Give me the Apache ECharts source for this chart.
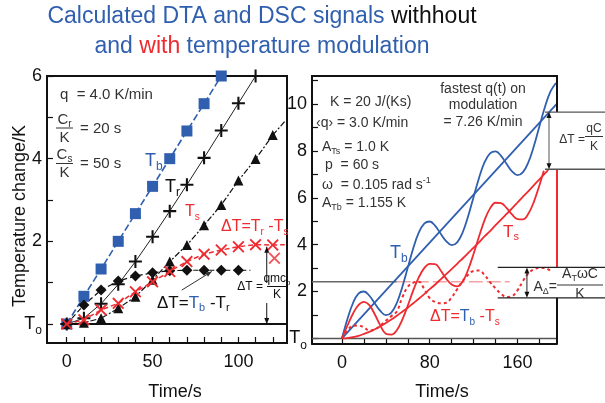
<!DOCTYPE html>
<html>
<head>
<meta charset="utf-8">
<script src="https://cdn.jsdelivr.net/npm/echarts@6/dist/echarts.min.js"></script>
<style>
  html, body { margin: 0; background: #fff; }
  #c { width: 605px; height: 403px; }
</style>
</head>
<body>
<div id="c"></div>
<script>
// ---- left panel: DTA without modulation (time in s, temperature in K) ----
const leftTime = [0, 10, 20, 30, 40, 50, 60, 70, 80, 90, 100, 110, 120]
const tbSquares = [0, 0.67, 1.33, 2.0, 2.67, 3.33, 4.0, 4.67, 5.33, 6.0]
const trPlus = [0, 0.14, 0.49, 0.96, 1.51, 2.11, 2.73, 3.37, 4.02, 4.68, 5.34, 6.0]
const tsTriangles = [0, 0.03, 0.14, 0.38, 0.66, 1.07, 1.51, 1.91, 2.39, 2.88, 3.47, 3.99, 4.57]
const dTrTs = [0, 0.1, 0.34, 0.5, 0.78, 1.02, 1.27, 1.51, 1.69, 1.79, 1.87, 1.92, 1.91]
const dTbTr = [0, 0.46, 0.82, 1.04, 1.16, 1.24, 1.29, 1.3, 1.3, 1.3, 1.3]
const leftXTicks = [0, 10, 20, 30, 40, 50, 60, 70, 80, 90, 100, 110, 120]
const leftXLabels = [0, 50, 100]
const leftYTicks = [0, 1, 2, 3, 4, 5, 6]
const leftYLabels = [0, 2, 4, 6]

// ---- right panel: with temperature modulation ----
const rTime = [0, 5, 10, 15, 20, 25, 30, 35, 40, 45, 50, 55, 60, 65, 70, 75, 80, 85, 90, 95,
  100, 105, 110, 115, 120, 125, 130, 135, 140, 145, 150, 155, 160, 165, 170, 175, 180, 185, 190, 195]
const tbLinTime = [0, 196]
const tbLin = [0, 10.02]
const tbMod = [0, 0.83, 1.50, 1.91, 2.00, 1.82, 1.49, 1.17, 0.99, 1.10, 1.51, 2.19, 3.02, 3.85, 4.51, 4.90, 4.99, 4.80, 4.47, 4.15,
  3.98, 4.10, 4.52, 5.21, 6.04, 6.86, 7.52, 7.90, 7.98, 7.79, 7.45, 7.13, 6.97, 7.10, 7.53, 8.22, 9.06, 9.88, 10.53, 10.90]
const tsLinTime = rTime.slice(0, 38).concat([188])
const tsLin = [0, 0.01, 0.05, 0.11, 0.19, 0.28, 0.39, 0.52, 0.66, 0.81, 0.97, 1.14, 1.31, 1.50, 1.69, 1.89, 2.10, 2.30, 2.52, 2.74,
  2.96, 3.18, 3.41, 3.64, 3.87, 4.11, 4.35, 4.58, 4.83, 5.07, 5.31, 5.55, 5.80, 6.05, 6.29, 6.54, 6.79, 7.04, 7.19]
const tsModTime = rTime.slice(0, 37).concat([184])
const tsMod = [0, 0.55, 1.05, 1.42, 1.56, 1.42, 1.02, 0.55, 0.20, 0.16, 0.35, 0.80, 1.40, 2.05, 2.60, 3.00, 3.18, 3.17, 2.90, 2.55,
  2.30, 2.22, 2.42, 2.93, 3.61, 4.36, 5.05, 5.55, 5.79, 5.77, 5.57, 5.29, 5.09, 5.08, 5.33, 5.84, 6.54, 7.16]
const dTbTs = [0, 0.35, 0.53, 0.55, 0.47, 0.33, 0.38, 0.55, 0.75, 0.95, 1.15, 1.75, 2.20, 2.38, 2.42, 2.10, 1.72, 1.55, 1.50, 1.52,
  1.75, 2.10, 2.45, 2.72, 2.88, 2.90, 2.70, 2.40, 2.13, 1.90, 1.77, 1.80, 2.05, 2.45, 2.78, 2.95, 3.00, 3.00, 2.88]
const meanLevel = 2.42
const qcBracket = [9.66, 7.22]   // ΔT = qC/K
const ampBracket = [3.03, 1.73]  // A_Δ
const rightXTicks = [0, 20, 40, 60, 80, 100, 120, 140, 160, 180]
const rightXLabels = [0, 80, 160]
const rightYTicks = [0, 1, 2, 3, 4, 5, 6, 7, 8, 9, 10, 11]
const rightYLabels = [0, 2, 4, 6, 8, 10]

const L_X = [-11.5, 128.3], L_Y = [-0.46, 6]
const R_X = [-27.3, 196], R_Y = [-0.24, 11.2]

const FF = '"Liberation Sans", Arial, sans-serif'
const INK = '#111'
const TXT = '#333'
const BLUE = '#2f5fae'
const RED = '#ee2b30'
const PLUS = 'path://M4.2,0H5.8V4.2H10V5.8H5.8V10H4.2V5.8H0V4.2H4.2Z'
const CROSS = 'path://M0,1.1L1.1,0L5,3.9L8.9,0L10,1.1L6.1,5L10,8.9L8.9,10L5,6.1L1.1,10L0,8.9L3.9,5Z'

const pts = (ts, vs) => vs.map((v, i) => [ts[i], v])

const t0Label = v => (v === 0 ? '{t|T}{o|o}' : String(v))
const t0Rich = {
  t: { fontSize: 18, lineHeight: 26, color: INK, fontFamily: FF },
  o: { fontSize: 12, lineHeight: 12, verticalAlign: 'bottom', color: INK, fontFamily: FF }
}

function xAxisOf(grid, range, ticks, labels, line) {
  return {
    type: 'value', gridIndex: grid, min: range[0], max: range[1],
    axisLine: { show: line, onZero: false, lineStyle: { color: INK, width: 2 } },
    splitLine: { show: false },
    axisTick: { inside: true, length: 6, customValues: ticks, lineStyle: { color: INK, width: 1.2 } },
    axisLabel: { customValues: labels, fontSize: 18, color: INK, fontFamily: FF, margin: 10 }
  }
}
function yAxisOf(grid, range, ticks, labels, line) {
  return {
    type: 'value', gridIndex: grid, min: range[0], max: range[1],
    axisLine: { show: line, onZero: false, lineStyle: { color: INK, width: 2 } },
    splitLine: { show: false },
    axisTick: { inside: true, length: 6, customValues: ticks, lineStyle: { color: INK, width: 1.2 } },
    axisLabel: { customValues: labels, fontSize: 18, color: INK, fontFamily: FF, margin: 5, formatter: t0Label, rich: t0Rich }
  }
}

const chart = echarts.init(document.getElementById('c'))

chart.setOption({
  animation: false,
  backgroundColor: '#fff',
  grid: [
    { left: 47, top: 76, width: 240, height: 267, show: true, borderColor: INK, borderWidth: 2 },
    { left: 312, top: 76, width: 245, height: 268 }
  ],
  xAxis: [
    xAxisOf(0, L_X, leftXTicks, leftXLabels, false),
    xAxisOf(1, R_X, rightXTicks, rightXLabels, true)
  ],
  yAxis: [
    yAxisOf(0, L_Y, leftYTicks, leftYLabels, false),
    yAxisOf(1, R_Y, rightYTicks, rightYLabels, true)
  ],
  series: [
    // left panel
    { type: 'line', xAxisIndex: 0, yAxisIndex: 0, data: [[0, 0], [L_X[1], 0]], symbol: 'none',
      lineStyle: { color: INK, width: 2 }, z: 1 },
    { type: 'line', xAxisIndex: 0, yAxisIndex: 0, data: pts(leftTime, tbSquares), symbol: 'rect', symbolSize: 11,
      itemStyle: { color: BLUE }, lineStyle: { color: BLUE, width: 1.6, type: [7, 3] }, z: 3 },
    { type: 'line', xAxisIndex: 0, yAxisIndex: 0, data: pts(leftTime, trPlus), symbol: PLUS, symbolSize: 13,
      itemStyle: { color: INK }, lineStyle: { color: '#222', width: 1 }, z: 3 },
    { type: 'line', xAxisIndex: 0, yAxisIndex: 0,
      data: pts(leftTime, tsTriangles).concat([{ value: [127, 4.9], symbol: 'none' }]),
      symbol: 'triangle', symbolSize: 10, itemStyle: { color: INK },
      lineStyle: { color: INK, width: 1.2, type: [6, 2, 2, 2] }, z: 3 },
    { type: 'line', xAxisIndex: 0, yAxisIndex: 0,
      data: pts(leftTime, dTbTr).concat([{ value: [107, 1.3], symbol: 'none' }]),
      symbol: 'diamond', symbolSize: 11, itemStyle: { color: INK },
      lineStyle: { color: INK, width: 1.2, type: [5, 3] }, z: 3 },
    { type: 'line', xAxisIndex: 0, yAxisIndex: 0,
      data: pts(leftTime, dTrTs).concat([{ value: [127, 1.92], symbol: 'none' }]),
      symbol: CROSS, symbolSize: 12, itemStyle: { color: RED },
      lineStyle: { color: RED, width: 1.5, type: [5, 3] }, z: 4 },
    { type: 'scatter', xAxisIndex: 0, yAxisIndex: 0, data: [[121, 1.59]], symbol: CROSS, symbolSize: 12,
      itemStyle: { color: RED }, z: 4 },

    // right panel
    { type: 'line', xAxisIndex: 1, yAxisIndex: 1, data: [[R_X[0], 0], [R_X[1], 0]], symbol: 'none',
      lineStyle: { color: '#555', width: 1.5 }, z: 1 },
    { type: 'line', xAxisIndex: 1, yAxisIndex: 1, data: [[R_X[0], meanLevel], [50, meanLevel]], symbol: 'none',
      lineStyle: { color: '#666', width: 1.5 }, z: 1 },
    { type: 'line', xAxisIndex: 1, yAxisIndex: 1, data: [[50, meanLevel], [153, meanLevel]], symbol: 'none',
      lineStyle: { color: '#f4a3a3', width: 1.5, type: [14, 4] }, z: 1 },
    { type: 'line', xAxisIndex: 1, yAxisIndex: 1, data: pts(tbLinTime, tbLin), symbol: 'none',
      lineStyle: { color: BLUE, width: 1.8 }, z: 3 },
    { type: 'line', xAxisIndex: 1, yAxisIndex: 1, data: pts(rTime, tbMod), symbol: 'none', smooth: 0.4,
      lineStyle: { color: BLUE, width: 1.8 }, z: 3 },
    { type: 'line', xAxisIndex: 1, yAxisIndex: 1, data: pts(tsLinTime, tsLin), symbol: 'none', smooth: 0.4,
      lineStyle: { color: RED, width: 1.8 }, z: 3 },
    { type: 'line', xAxisIndex: 1, yAxisIndex: 1, data: pts(tsModTime, tsMod), symbol: 'none', smooth: 0.4,
      lineStyle: { color: RED, width: 1.8 }, z: 3 },
    { type: 'line', xAxisIndex: 1, yAxisIndex: 1, data: pts(rTime.slice(0, dTbTs.length), dTbTs), symbol: 'none', smooth: 0.4,
      lineStyle: { color: RED, width: 2, type: [3, 3] }, z: 3 }
  ]
})

// ---- annotations ----
const P = (g, x, y) => chart.convertToPixel({ gridIndex: g }, [x, y])

function mk(x, y, parts, size, align, rot) {
  const rich = {}
  let text = ''
  parts.forEach((p, i) => {
    const kind = p[2] || 'n'
    const small = Math.round(size * 0.65)
    let st
    if (kind === 'sub') st = { fontSize: small, lineHeight: small, verticalAlign: 'bottom' }
    else if (kind === 'sup') st = { fontSize: small, lineHeight: small, verticalAlign: 'top' }
    else st = { fontSize: size, lineHeight: Math.round(size * 1.25), verticalAlign: 'middle' }
    st.textVerticalAlign = st.verticalAlign
    st.fill = p[1] || TXT
    st.fontFamily = FF
    rich['p' + i] = st
    text += '{p' + i + '|' + p[0] + '}'
  })
  return {
    type: 'text', x: x, y: y, rotation: rot || 0, silent: true, z: 50,
    style: { text: text, rich: rich, fill: TXT, fontSize: size, fontFamily: FF,
      align: align || 'left', textAlign: align || 'left', verticalAlign: 'middle', textVerticalAlign: 'middle' }
  }
}
const line = (x1, y1, x2, y2, c, w) => ({ type: 'line', silent: true, z: 40,
  shape: { x1: x1, y1: y1, x2: x2, y2: y2 }, style: { stroke: c, lineWidth: w } })
function head(x, y, dx, dy, c, len, w) {
  const n = Math.hypot(dx, dy); dx /= n; dy /= n
  const bx = x - dx * len, by = y - dy * len
  return { type: 'polygon', silent: true, z: 41,
    shape: { points: [[x, y], [bx - dy * w, by + dx * w], [bx + dy * w, by - dx * w]] }, style: { fill: c } }
}

const g = []
// title
g.push(mk(262, 17, [['Calculated DTA and DSC signals ', BLUE], ['withhout', INK]], 23, 'center'))
g.push(mk(262, 47, [['and ', BLUE], ['with', RED], [' temperature modulation', BLUE]], 23, 'center'))

// axis names
g.push(mk(20, 216, [['Temperature change/K', INK]], 18, 'center', Math.PI / 2))
g.push(mk(175, 392, [['Time/s', INK]], 18, 'center'))
g.push(mk(442, 392, [['Time/s', INK]], 18, 'center'))

// left panel texts
g.push(mk(60, 95, [['q  = 4.0 K/min']], 15))
g.push(mk(64.5, 120, [['C'], ['r', TXT, 'sub']], 15, 'center'))
g.push(line(56, 128, 73, 128, TXT, 1))
g.push(mk(64.5, 137.5, [['K']], 15, 'center'))
g.push(mk(80, 129, [['= 20 s']], 15))
g.push(mk(64.5, 155, [['C'], ['s', TXT, 'sub']], 15, 'center'))
g.push(line(56, 163.5, 73, 163.5, TXT, 1))
g.push(mk(64.5, 172.5, [['K']], 15, 'center'))
g.push(mk(80, 164, [['= 50 s']], 15))
g.push(mk(145, 161, [['T', BLUE], ['b', BLUE, 'sub']], 18))
g.push(mk(165, 187, [['T', INK], ['r', INK, 'sub']], 18))
g.push(mk(185, 212, [['T', RED], ['s', RED, 'sub']], 16))
g.push(mk(221, 227, [['ΔT=T', RED], ['r', RED, 'sub'], [' -T', RED], ['s', RED, 'sub']], 16))
g.push(mk(157, 303, [['ΔT=', INK], ['T', BLUE], ['b', BLUE, 'sub'], [' -T', INK], ['r', INK, 'sub']], 17))

// left: ΔT = qmcp/K double arrow
const la = P(0, 116.5, dTrTs[11] - 0.05), lb = P(0, 116.5, 0)
g.push(line(la[0], la[1], la[0], 283, INK, 1))
g.push(line(la[0], 303, lb[0], lb[1], INK, 1))
g.push(head(la[0], la[1], 0, -1, INK, 6, 2.5))
g.push(head(lb[0], lb[1], 0, 1, INK, 6, 2.5))
g.push(mk(263, 287, [['ΔT =', INK]], 12, 'right'))
g.push(mk(277, 279, [['qmc', INK], ['p', INK, 'sub']], 12, 'center'))
g.push(line(267, 286.5, 287, 286.5, INK, 1))
g.push(mk(277, 295, [['K', INK]], 12, 'center'))
// left: pointer to ΔT = Tb - Tr
const pa = P(0, 67, 0.82), pb = P(0, 84.5, 1.27)
g.push(line(pa[0], pa[1], pb[0], pb[1], '#333', 1))
g.push(head(pb[0], pb[1], pb[0] - pa[0], pb[1] - pa[1], '#333', 6, 2.5))

// right panel frame (top + right edge with gaps)
const gx1 = 312, gx2 = 557, gy1 = 76, gy2 = 344
const q1 = P(1, 185, qcBracket[0])[1], q2 = P(1, 185, qcBracket[1])[1]
const a1 = P(1, 142, ampBracket[0])[1], a2 = P(1, 142, ampBracket[1])[1]
g.push(line(gx1 - 1, gy1, gx2 + 1, gy1, INK, 2))
g.push(line(gx2, gy1, gx2, q1, INK, 2))
g.push(line(gx2, q2, gx2, a1, RED, 2))
g.push(line(gx2, a2, gx2, gy2, INK, 2))

// ΔT = qC/K bracket
const qx = P(1, 185, 0)[0]
g.push(line(qx, q1, 605, q1, '#555', 1.3))
g.push(line(qx, q2, 605, q2, '#555', 1.3))
g.push(line(549, q1 + 5, 549, q2 - 5, '#555', 1))
g.push(head(549, q1, 0, -1, INK, 6, 2.5))
g.push(head(549, q2, 0, 1, INK, 6, 2.5))
g.push(mk(585, 140, [['ΔT =']], 12, 'right'))
g.push(mk(594, 129, [['qC']], 12, 'center'))
g.push(line(585, 136.5, 603, 136.5, TXT, 1))
g.push(mk(594, 147, [['K']], 12, 'center'))

// A_Δ bracket
const ax = P(1, 142, 0)[0], av = P(1, 168.6, 0)[0]
g.push(line(ax, a1, 605, a1, '#222', 1.3))
g.push(line(ax, a2, 605, a2, '#222', 1.3))
g.push(line(av, a1 + 5, av, a2 - 5, '#222', 1))
g.push(head(av, a1, 0, -1, INK, 6, 2.5))
g.push(head(av, a2, 0, 1, INK, 6, 2.5))
g.push(mk(557, 287, [['A'], ['Δ', TXT, 'sub'], ['=']], 14, 'right'))
g.push(mk(580, 274, [['A'], ['T', TXT, 'sub'], ['ωC']], 14, 'center'))
g.push(line(557, 285, 603, 285, TXT, 1))
g.push(mk(580, 294, [['K']], 14, 'center'))

// right panel texts
g.push(mk(330, 101.7, [['K = 20 J/(Ks)']], 14))
g.push(mk(316, 123, [['‹q› = 3.0 K/min']], 14))
g.push(mk(322, 146.7, [['A'], ['Ts', TXT, 'sub'], [' = 1.0 K']], 14))
g.push(mk(325, 165, [['p  = 60 s']], 14))
g.push(mk(322, 185, [['ω  = 0.105 rad s'], ['-1', TXT, 'sup']], 14))
g.push(mk(322, 203.3, [['A'], ['Tb', TXT, 'sub'], [' = 1.155 K']], 14))
g.push(mk(483, 89, [['fastest q(t) on']], 14, 'center'))
g.push(mk(483, 105, [['modulation']], 14, 'center'))
g.push(mk(483, 121.7, [['= 7.26 K/min']], 14, 'center'))
g.push(mk(390, 253, [['T', BLUE], ['b', BLUE, 'sub']], 18))
g.push(mk(503, 232, [['T', RED], ['s', RED, 'sub']], 17))
g.push(mk(430, 317, [['ΔT=', RED], ['T', BLUE], ['b', BLUE, 'sub'], [' -T', RED], ['s', RED, 'sub']], 16))

chart.setOption({ graphic: { elements: g } })
</script>
</body>
</html>
